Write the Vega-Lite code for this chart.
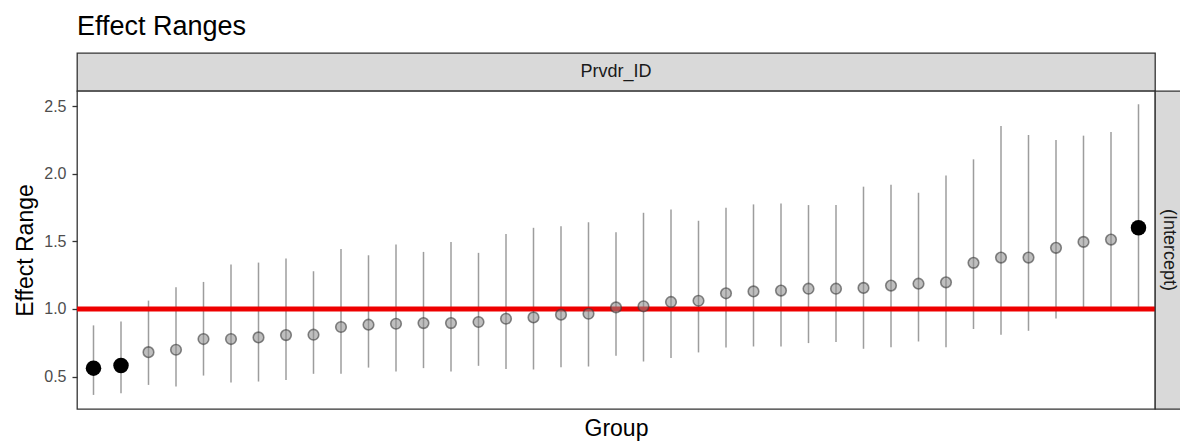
{
  "$schema": "https://vega.github.io/schema/vega-lite/v6.json",
  "background": "white",
  "padding": {"left": 14, "top": 12, "right": 0, "bottom": 0},
  "config": {
    "font": "Liberation Sans",
    "view": {"stroke": null},
    "concat": {"spacing": 0},
    "title": {"font": "Liberation Sans", "fontSize": 27, "fontWeight": "normal", "color": "black", "anchor": "start"}
  },
  "datasets": {
    "effects": [
      {"grp": 1, "est": 0.563, "lo": 0.365, "hi": 0.879},
      {"grp": 2, "est": 0.582, "lo": 0.378, "hi": 0.908},
      {"grp": 3, "est": 0.681, "lo": 0.439, "hi": 1.062},
      {"grp": 4, "est": 0.699, "lo": 0.427, "hi": 1.160},
      {"grp": 5, "est": 0.778, "lo": 0.508, "hi": 1.200},
      {"grp": 6, "est": 0.778, "lo": 0.456, "hi": 1.328},
      {"grp": 7, "est": 0.790, "lo": 0.464, "hi": 1.343},
      {"grp": 8, "est": 0.807, "lo": 0.476, "hi": 1.373},
      {"grp": 9, "est": 0.810, "lo": 0.521, "hi": 1.279},
      {"grp": 10, "est": 0.867, "lo": 0.521, "hi": 1.444},
      {"grp": 11, "est": 0.884, "lo": 0.567, "hi": 1.397},
      {"grp": 12, "est": 0.891, "lo": 0.538, "hi": 1.476},
      {"grp": 13, "est": 0.896, "lo": 0.563, "hi": 1.422},
      {"grp": 14, "est": 0.896, "lo": 0.538, "hi": 1.496},
      {"grp": 15, "est": 0.904, "lo": 0.580, "hi": 1.415},
      {"grp": 16, "est": 0.928, "lo": 0.556, "hi": 1.555},
      {"grp": 17, "est": 0.938, "lo": 0.553, "hi": 1.600},
      {"grp": 18, "est": 0.958, "lo": 0.570, "hi": 1.612},
      {"grp": 19, "est": 0.965, "lo": 0.575, "hi": 1.641},
      {"grp": 20, "est": 1.012, "lo": 0.654, "hi": 1.567},
      {"grp": 21, "est": 1.020, "lo": 0.612, "hi": 1.711},
      {"grp": 22, "est": 1.052, "lo": 0.637, "hi": 1.736},
      {"grp": 23, "est": 1.061, "lo": 0.679, "hi": 1.652},
      {"grp": 24, "est": 1.116, "lo": 0.716, "hi": 1.748},
      {"grp": 25, "est": 1.130, "lo": 0.723, "hi": 1.773},
      {"grp": 26, "est": 1.136, "lo": 0.723, "hi": 1.780},
      {"grp": 27, "est": 1.150, "lo": 0.748, "hi": 1.768},
      {"grp": 28, "est": 1.150, "lo": 0.756, "hi": 1.768},
      {"grp": 29, "est": 1.156, "lo": 0.706, "hi": 1.904},
      {"grp": 30, "est": 1.173, "lo": 0.718, "hi": 1.919},
      {"grp": 31, "est": 1.187, "lo": 0.760, "hi": 1.859},
      {"grp": 32, "est": 1.197, "lo": 0.718, "hi": 1.987},
      {"grp": 33, "est": 1.341, "lo": 0.852, "hi": 2.106},
      {"grp": 34, "est": 1.380, "lo": 0.810, "hi": 2.353},
      {"grp": 35, "est": 1.380, "lo": 0.839, "hi": 2.286},
      {"grp": 36, "est": 1.452, "lo": 0.930, "hi": 2.249},
      {"grp": 37, "est": 1.496, "lo": 0.995, "hi": 2.281},
      {"grp": 38, "est": 1.513, "lo": 0.995, "hi": 2.308},
      {"grp": 39, "est": 1.600, "lo": 1.012, "hi": 2.513}
    ],
    "strips": [{"panel": "Prvdr_ID", "term": "(Intercept)"}],
    "reference": [{"ratio": 1}]
  },
  "spacing": 0,
  "bounds": "flush",
  "vconcat": [
    {
      "title": {"text": "Effect Ranges", "anchor": "start", "frame": "group", "offset": 12},
      "width": 1078,
      "height": 38,
      "view": {"fill": "#d9d9d9", "stroke": "#333333", "strokeWidth": 1.3},
      "data": {"name": "strips"},
      "mark": {"type": "text", "fontSize": 18, "color": "#1a1a1a"},
      "encoding": {"text": {"field": "panel"}}
    },
    {
      "spacing": 0,
      "bounds": "flush",
      "hconcat": [
        {
          "width": 1078,
          "height": 318,
          "view": {"fill": "white", "stroke": "#333333", "strokeWidth": 1.3},
          "data": {"name": "effects"},
          "layer": [
            {
              "mark": {"type": "rule", "color": "#8c8c8c", "strokeWidth": 1.5, "opacity": 0.85},
              "encoding": {
                "x": {"field": "grp", "type": "ordinal", "scale": {"type": "point", "padding": 0.6},
                      "axis": {"title": "Group", "labels": false, "ticks": false, "domain": false,
                               "titleFontSize": 23, "titleFontWeight": "normal", "titleColor": "black", "titlePadding": 8}},
                "y": {"field": "lo", "type": "quantitative", "title": "Effect Range",
                      "scale": {"domain": [0.261, 2.611], "nice": false, "zero": false},
                      "axis": {"values": [0.5, 1, 1.5, 2, 2.5], "format": ".1f", "grid": false, "domain": false,
                               "tickColor": "#333333", "tickSize": 5, "tickWidth": 1.3,
                               "labelFontSize": 16, "labelColor": "#4d4d4d", "labelPadding": 6,
                               "titleFontSize": 23, "titleFontWeight": "normal", "titleColor": "black", "titlePadding": 6}},
                "y2": {"field": "hi"}
              }
            },
            {
              "data": {"name": "reference"},
              "mark": {"type": "rule", "color": "#ee0000", "strokeWidth": 5},
              "encoding": {"y": {"field": "ratio", "type": "quantitative", "title": "Effect Range"}}
            },
            {
              "transform": [{"filter": "datum.lo <= 1 && datum.hi >= 1"}],
              "mark": {"type": "point", "shape": "circle", "filled": true, "fill": "#8a8a8a", "fillOpacity": 0.55,
                       "stroke": "#3a3a3a", "strokeOpacity": 0.6, "strokeWidth": 1.6, "size": 112},
              "encoding": {
                "x": {"field": "grp", "type": "ordinal"},
                "y": {"field": "est", "type": "quantitative", "title": "Effect Range"}
              }
            },
            {
              "transform": [{"filter": "datum.lo > 1 || datum.hi < 1"}],
              "mark": {"type": "circle", "color": "black", "opacity": 1, "size": 240},
              "encoding": {
                "x": {"field": "grp", "type": "ordinal"},
                "y": {"field": "est", "type": "quantitative", "title": "Effect Range"}
              }
            }
          ]
        },
        {
          "width": 28,
          "height": 318,
          "view": {"fill": "#d9d9d9", "stroke": "#333333", "strokeWidth": 1.3},
          "data": {"name": "strips"},
          "mark": {"type": "text", "angle": 90, "fontSize": 18, "color": "#1a1a1a"},
          "encoding": {"text": {"field": "term"}}
        }
      ]
    }
  ]
}
